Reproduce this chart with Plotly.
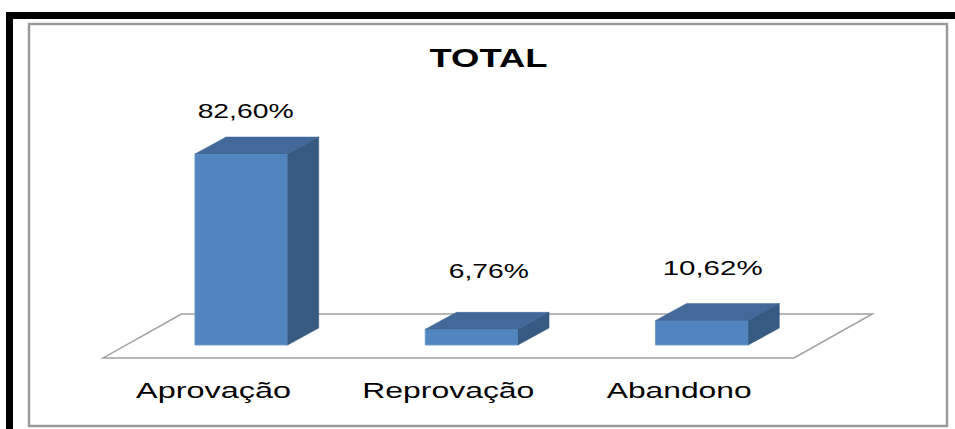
import plotly.graph_objects as go

# ---- data ----
categories = ["Aprovação", "Reprovação", "Abandono"]
values = [82.60, 6.76, 10.62]
value_labels = ["82,60%", "6,76%", "10,62%"]
title_text = "TOTAL"

# ---- style ----
W, H = 955, 429
FRONT = "#5285C0"
TOP = "#42699A"
SIDE = "#365A81"
FLOOR_LINE = "#A0A0A0"
BAR_W = 0.4025
DDX, DDY = 0.135, 7.35          # oblique depth of bars (data units)
FLOOR_FRONT = (-0.10, -5.6)     # floor front edge offset
FLOOR_BACK = (0.24, 13.4)       # floor back edge offset
XR = [-1.0478, 3.099]
YR = [-36.33, 149.2]
label_xshift = [-11, 2, -5]
label_yshift = [-7, 8, 2]
LABEL_DY = 22
FONT = "Liberation Sans, Arial, sans-serif"
# rendered text widths (px) in the reference (glyphs horizontally stretched)
text_widths = {"TOTAL": 118, "82,60%": 96, "6,76%": 80, "10,62%": 100,
               "Aprovação": 155, "Reprovação": 172, "Abandono": 145}

fig = go.Figure()
xs = list(range(len(categories)))

# front faces
fig.add_trace(go.Bar(x=xs, y=values, width=BAR_W,
                     marker=dict(color=FRONT, line=dict(color="#6E9BD0", width=1)),
                     hoverinfo="skip"))

hw = BAR_W / 2
for i, v in zip(xs, values):
    # top face
    fig.add_trace(go.Scatter(
        x=[i - hw, i + hw, i + hw + DDX, i - hw + DDX, i - hw],
        y=[v, v, v + DDY, v + DDY, v],
        mode="lines", fill="toself", fillcolor=TOP,
        line=dict(color=TOP, width=0.5), hoverinfo="skip"))
    # side face
    fig.add_trace(go.Scatter(
        x=[i + hw, i + hw + DDX, i + hw + DDX, i + hw, i + hw],
        y=[0, DDY, v + DDY, v, 0],
        mode="lines", fill="toself", fillcolor=SIDE,
        line=dict(color=SIDE, width=0.5), hoverinfo="skip"))

n = len(categories)
fx0, fy0 = -0.5 + FLOOR_FRONT[0], FLOOR_FRONT[1]
fx1 = n - 0.5 + FLOOR_FRONT[0]
bx0, by0 = -0.5 + FLOOR_BACK[0], FLOOR_BACK[1]
bx1 = n - 0.5 + FLOOR_BACK[0]
floor_path = f"M {fx0},{fy0} L {fx1},{fy0} L {bx1},{by0} L {bx0},{by0} Z"

shapes = [
    dict(type="path", path=floor_path, xref="x", yref="y",
         line=dict(color=FLOOR_LINE, width=1.5), fillcolor="rgba(0,0,0,0)", layer="below"),
    # outer gray border
    dict(type="rect", xref="paper", yref="paper",
         x0=29 / W, x1=947 / W, y0=1 - 426 / H, y1=1 - 24 / H,
         line=dict(color="#9A9A9A", width=2.5), fillcolor="rgba(0,0,0,0)"),
    # black frame pieces
    dict(type="rect", xref="paper", yref="paper",
         x0=6 / W, x1=1.01, y0=1 - 19 / H, y1=1 - 12 / H,
         line=dict(width=0), fillcolor="black"),
    dict(type="rect", xref="paper", yref="paper",
         x0=6 / W, x1=13 / W, y0=-0.01, y1=1 - 12 / H,
         line=dict(width=0), fillcolor="black"),
]

annotations = []
for i, (v, t) in enumerate(zip(values, value_labels)):
    annotations.append(dict(x=i + DDX / 2, y=v + LABEL_DY, text=t, showarrow=False,
                            xshift=label_xshift[i], yshift=label_yshift[i],
                            font=dict(family=FONT, size=21, color="black"),
                            xanchor="center", yanchor="middle"))
for i, c in enumerate(categories):
    annotations.append(dict(x=i + FLOOR_FRONT[0], y=-19.5, text=c, showarrow=False,
                            xshift=[-5, 0, 0][i],
                            font=dict(family=FONT, size=22, color="black"),
                            xanchor="center", yanchor="middle"))
annotations.append(dict(xref="paper", yref="paper", x=488.5 / W, y=1 - 58.5 / H,
                        text=f"<b>{title_text}</b>", showarrow=False,
                        font=dict(family=FONT, size=25, color="black"),
                        xanchor="center", yanchor="middle"))

fig.update_layout(
    width=W, height=H, margin=dict(l=0, r=0, t=0, b=0),
    paper_bgcolor="white", plot_bgcolor="white", showlegend=False,
    xaxis=dict(range=XR, visible=False, fixedrange=True),
    yaxis=dict(range=YR, visible=False, fixedrange=True),
    shapes=shapes, annotations=annotations, bargap=0,
)

targets_js = ",".join(f'"{k}":{v}' for k, v in text_widths.items())
post_script = (
    "document.body.style.margin='0';"
    "var tw={" + targets_js + "};"
    "document.querySelectorAll('text.annotation-text').forEach(function(t){"
    "var k=t.textContent;if(tw[k]){t.setAttribute('textLength',tw[k]);"
    "t.setAttribute('lengthAdjust','spacingAndGlyphs');}});"
)
fig.write_html("out.html", post_script=post_script,
               config={"displayModeBar": False, "staticPlot": True})
